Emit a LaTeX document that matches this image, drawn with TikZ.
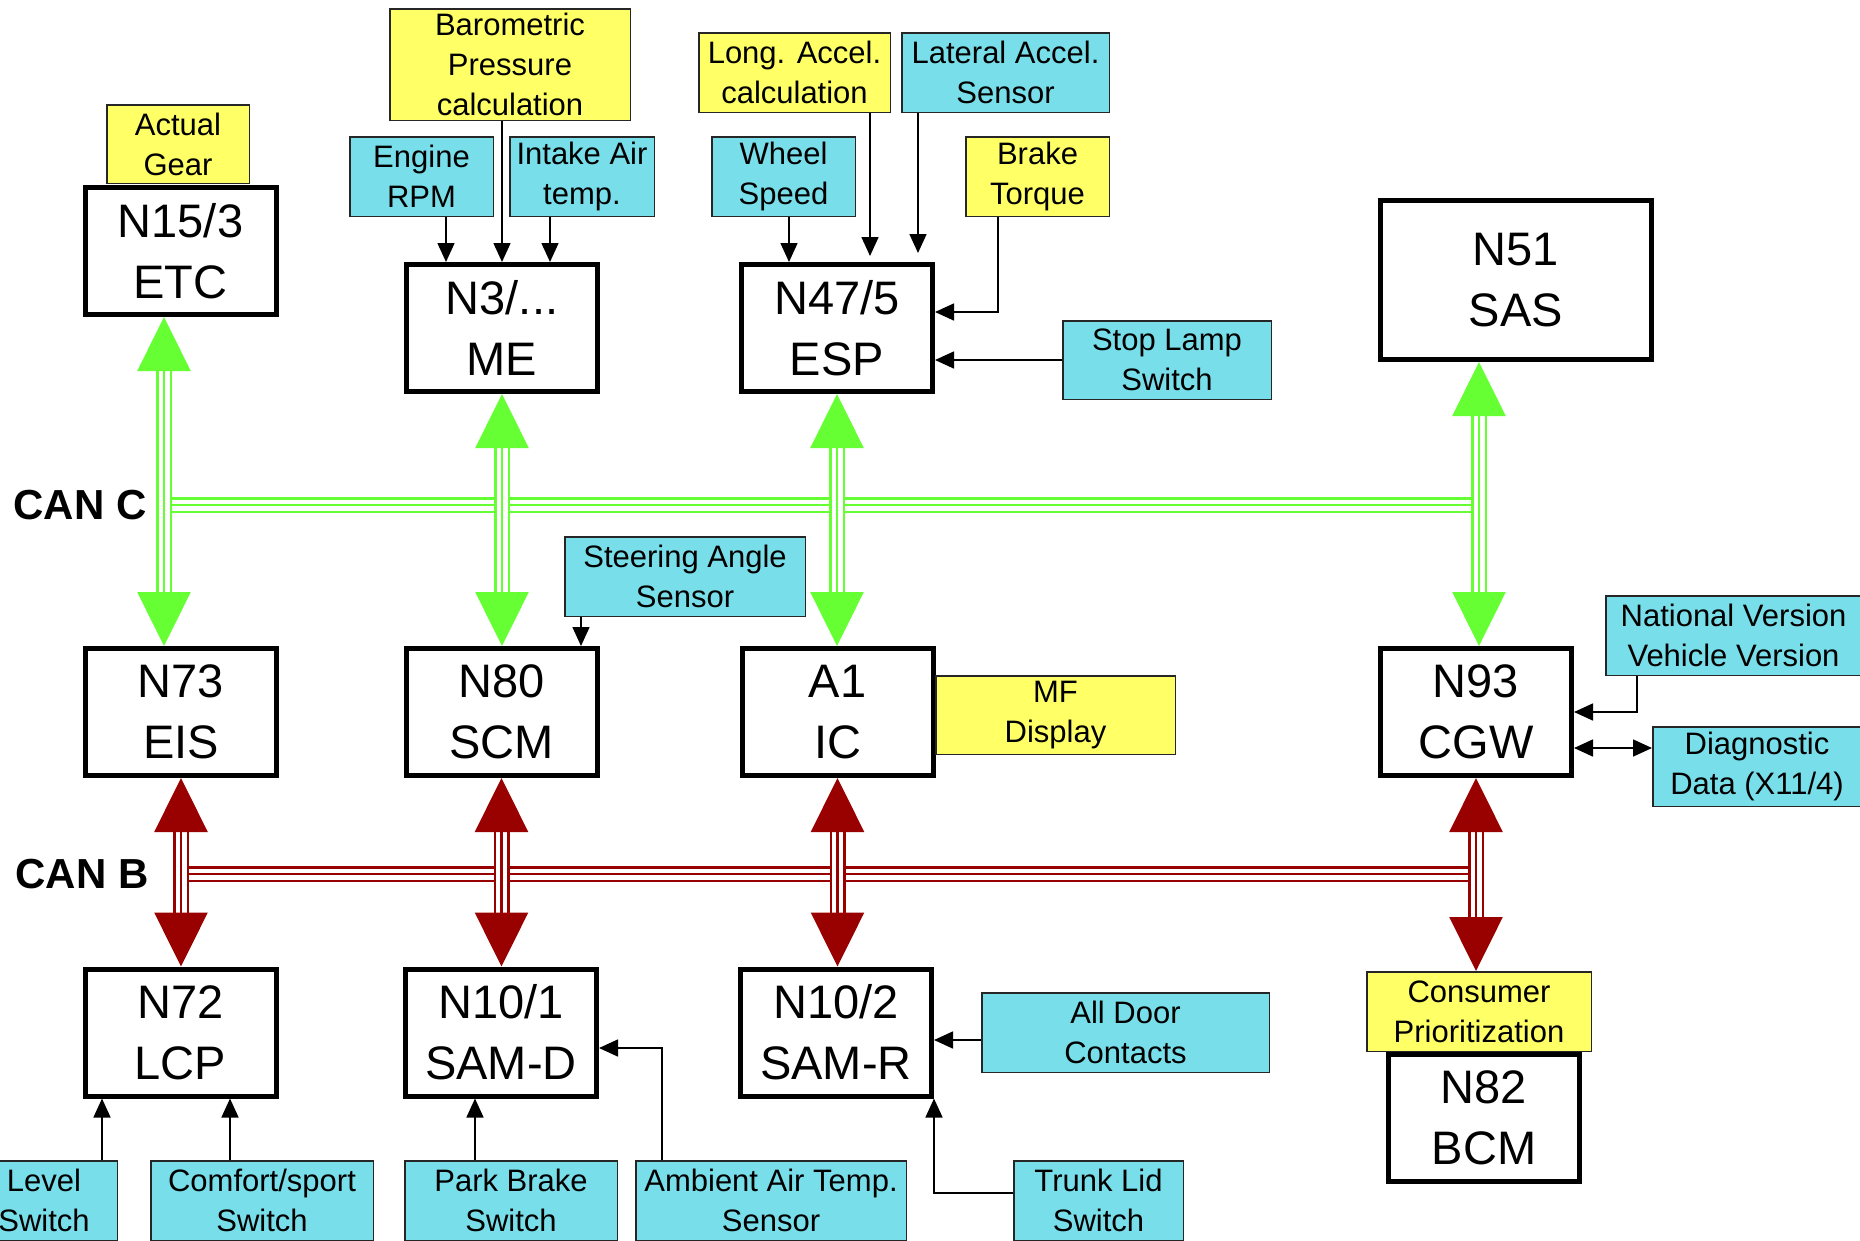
\documentclass[tikz,border=0pt]{standalone}
\usepackage{fontspec}
\setmainfont{Liberation Sans}
\usetikzlibrary{arrows.meta}

\definecolor{sensorfill}{RGB}{120,222,234}
\definecolor{calcfill}{RGB}{255,255,102}
\definecolor{cancol}{RGB}{102,255,51}
\definecolor{canbcol}{RGB}{153,0,0}

\tikzset{
  module/.style={draw, line width=5pt, fill=white, align=center, inner sep=0pt,
    minimum width=191pt, minimum height=127pt, font=\fontsize{47}{61}\selectfont},
  infobox/.style={draw=black!85, line width=1.5pt, align=center, inner sep=0pt,
    minimum height=79.5pt, font=\fontsize{31}{40}\selectfont},
  sensorbox/.style={infobox, fill=sensorfill},
  calcbox/.style={infobox, fill=calcfill},
  buslabel/.style={font=\bfseries\fontsize{42}{50}\selectfont},
  sig/.style={line width=1.6pt, -{Triangle[width=17pt,length=19pt]}},
  sigboth/.style={line width=1.6pt, {Triangle[width=17pt,length=19pt]}-{Triangle[width=17pt,length=19pt]}},
  bus/.style={draw=#1, line width=2.5pt,
    preaction={draw=#1, line width=16pt},
    preaction={draw=white, line width=11pt}},
  busdrop/.style={draw=#1, line width=2.5pt,
    {Triangle[width=53pt,length=54pt]}-{Triangle[width=53pt,length=54pt]},
    preaction={draw=#1, line width=16pt, -, shorten <=53pt, shorten >=53pt},
    preaction={draw=white, line width=11pt, -, shorten <=53pt, shorten >=53pt}}
}

\begin{document}
\begin{tikzpicture}[x=1pt,y=-1pt]
    \useasboundingbox (0,0) rectangle (1860,1240);
    \clip (0,0) rectangle (1860,1240);

    % Control units
    \node[module] (etc) at (180.5,251) {N15/3\\ETC};
    \node[module] (me) at (502,328) {N3/...\\ME};
    \node[module] (esp) at (837,328) {N47/5\\ESP};
    \node[module, minimum width=271pt, minimum height=159pt] (sas) at (1516,280) {N51\\SAS};
    \node[module] (eis) at (181,712) {N73\\EIS};
    \node[module] (scm) at (501.5,712) {N80\\SCM};
    \node[module] (ic) at (837.5,712) {A1\\IC};
    \node[module] (cgw) at (1476,712) {N93\\CGW};
    \node[module] (lcp) at (180.5,1032.5) {N72\\LCP};
    \node[module] (samd) at (501,1032.5) {N10/1\\SAM-D};
    \node[module] (samr) at (836,1032.5) {N10/2\\SAM-R};
    \node[module] (bcm) at (1484,1118) {N82\\BCM};

    % Inputs and calculated values
    \node[calcbox, minimum width=142.5pt, minimum height=78.5pt] (gear) at (178,144) {Actual\\Gear};
    \node[calcbox, minimum width=240.5pt, minimum height=111.5pt] (baro) at (510,64.5) {Barometric\\Pressure\\calculation};
    \node[sensorbox, minimum width=143.5pt] (rpm) at (421.5,176.5) {Engine\\RPM};
    \node[sensorbox, minimum width=144.5pt] (iat) at (582,176.5) {Intake Air\\temp.};
    \node[calcbox, minimum width=191.5pt] (longacc) at (794.5,72.5) {Long. Accel.\\calculation};
    \node[sensorbox, minimum width=207.5pt] (latacc) at (1005.5,72.5) {Lateral Accel.\\Sensor};
    \node[sensorbox, minimum width=143.5pt] (wheel) at (783.5,176.5) {Wheel\\Speed};
    \node[calcbox, minimum width=143.5pt] (brake) at (1037.5,176.5) {Brake\\Torque};
    \node[sensorbox, minimum width=208.5pt, minimum height=78.5pt] (stoplamp) at (1167,360) {Stop Lamp\\Switch};
    \node[sensorbox, minimum width=240.5pt] (steer) at (685,576.5) {Steering Angle\\Sensor};
    \node[calcbox, minimum width=239.5pt, minimum height=78.5pt] (mf) at (1055.5,715) {MF\\Display};
    \node[sensorbox, minimum width=255.5pt] (natver) at (1733.5,635.5) {National Version\\Vehicle Version};
    \node[sensorbox, minimum width=208.5pt] (diag) at (1757,766.5) {Diagnostic\\Data (X11/4)};
    \node[calcbox, minimum width=224.5pt] (consumer) at (1479,1011.5) {Consumer\\Prioritization};
    \node[sensorbox, minimum width=287.5pt] (doors) at (1125.5,1032.5) {All Door\\Contacts};
    \node[sensorbox, minimum width=169.5pt] (trunk) at (1098.5,1200.5) {Trunk Lid\\Switch};
    \node[sensorbox, minimum width=146.5pt] (level) at (44,1200.5) {Level\\Switch};
    \node[sensorbox, minimum width=222.5pt] (comfort) at (262,1200.5) {Comfort/sport\\Switch};
    \node[sensorbox, minimum width=212.5pt] (park) at (511,1200.5) {Park Brake\\Switch};
    \node[sensorbox, minimum width=270.5pt] (ambient) at (771,1200.5) {Ambient Air Temp.\\Sensor};

    % Bus labels
    \node[buslabel] (cancl) at (80,505) {CAN C};
    \node[buslabel] (canbl) at (82,874) {CAN B};
    \coordinate (etcbus) at ([xshift=-16.5pt]etc.south);
    \coordinate (sasbus) at ([xshift=-37pt]sas.south);

    % CAN C
    \draw[bus=cancol] (etcbus |- cancl) -- (sasbus |- cancl);
    \draw[busdrop=cancol] (etcbus) -- (etcbus |- eis.north);
    \draw[busdrop=cancol] (me.south) -- (me.south |- scm.north);
    \draw[busdrop=cancol] (esp.south) -- (esp.south |- ic.north);
    \draw[busdrop=cancol] (sasbus) -- (sasbus |- cgw.north);

    % CAN B
    \draw[bus=canbcol] (eis.south |- canbl) -- (cgw.south |- canbl);
    \draw[busdrop=canbcol] (eis.south) -- (eis.south |- lcp.north);
    \draw[busdrop=canbcol] (scm.south) -- (scm.south |- samd.north);
    \draw[busdrop=canbcol] (ic.south) -- (ic.south |- samr.north);
    \draw[busdrop=canbcol] (cgw.south) -- (cgw.south |- consumer.north);

    % Engine signals
    \draw[sig] ([xshift=24.5pt]rpm.south) -- ([xshift=-56pt]me.north);
    \draw[sig] ([xshift=-8pt]baro.south) -- (me.north);
    \draw[sig] ([xshift=-32pt]iat.south) -- ([xshift=48pt]me.north);

    % ESP signals
    \draw[sig] ([xshift=5.5pt]wheel.south) -- ([xshift=-48pt]esp.north);
    \draw[sig] ([xshift=75.5pt]longacc.south) -- ([xshift=33pt,yshift=6pt]esp.north);
    \draw[sig] ([xshift=-87.5pt]latacc.south) -- ([xshift=81pt,yshift=9pt]esp.north);
    \draw[sig] ([xshift=-39.5pt]brake.south) |- ([yshift=16pt]esp.east);
    \draw[sig] (stoplamp.west) -- ([yshift=-32pt]esp.east);

    % Middle row
    \draw[sig] ([xshift=-104pt]steer.south) -- ([xshift=79.5pt]scm.north);
    \draw[sig] ([xshift=-96.5pt]natver.south) |- (cgw.east);
    \draw[sigboth] ([yshift=18.5pt]diag.west) -- ([yshift=-36pt]cgw.east);

    % Bottom row
    \draw[sig] ([yshift=-7.5pt]doors.west) -- ([yshift=-7.5pt]samr.east);
    \draw[sig] ([yshift=7.5pt]trunk.west) -| (samr.south east);
    \draw[sig] ([xshift=58pt]level.north) -- ([xshift=-78.5pt]lcp.south);
    \draw[sig] ([xshift=-32pt]comfort.north) -- ([xshift=49.5pt]lcp.south);
    \draw[sig] ([xshift=-36pt]park.north) -- ([xshift=-26pt]samd.south);
    \draw[sig] ([xshift=-109pt]ambient.north) |- ([yshift=-15.5pt]samd.east);
\end{tikzpicture}
\end{document}
